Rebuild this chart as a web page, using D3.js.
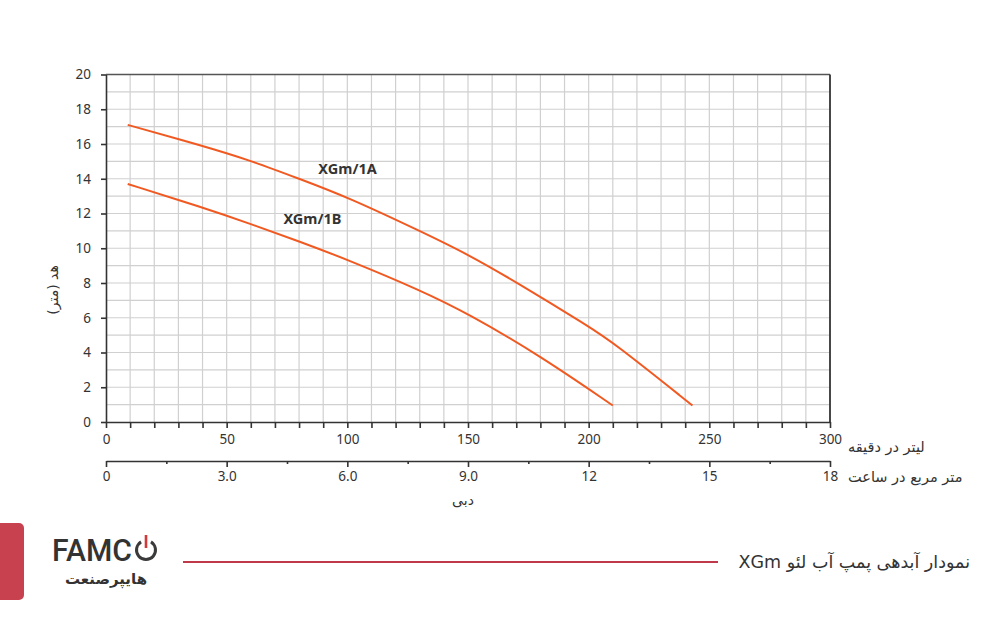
<!DOCTYPE html>
<html>
<head>
<meta charset="utf-8">
<title>XGm pump curve</title>
<style>
  body { margin: 0; background: #fff; }
  svg text { font-family: "Noto Sans", "DejaVu Sans", sans-serif; fill: #333; }
  .fa { font-family: "DejaVu Sans", "Noto Sans", sans-serif; }
  .grid line { stroke: #d0d0d0; stroke-width: 1.2; }
  .axis path, .axis line { stroke: #333; stroke-width: 1.6; }
  .axis text { font-size: 13px; fill: #333; }
</style>
</head>
<body>
<div id="chart"></div>
<script src="https://cdn.jsdelivr.net/npm/d3@7"></script>
<script>
// pump curves, flow in L/min, head in metres
const q1A = [9, 40, 60, 80, 100, 130, 150, 170, 200, 210, 243];
const h1A = [17.1, 15.9, 15.05, 14.0, 12.95, 11.0, 9.65, 8.05, 5.5, 4.6, 0.95];
const q1B = [9, 40, 60, 80, 100, 130, 150, 180, 210];
const h1B = [13.7, 12.35, 11.4, 10.4, 9.35, 7.6, 6.25, 3.8, 0.95];
const seriesNames = ["XGm/1A", "XGm/1B"];

const lpmTicks = [0, 50, 100, 150, 200, 250, 300];
const m3hTicks = [0, 3, 6, 9, 12, 15, 18];
const m3hLabels = ["0", "3.0", "6.0", "9.0", "12", "15", "18"];
const headTicks = [0, 2, 4, 6, 8, 10, 12, 14, 16, 18, 20];

const W = 1000, H = 620;
const pl = 106, pr = 830, pt = 74.5, pb = 422;

const svg = d3.select('#chart').append('svg')
  .attr('width', W).attr('height', H);

const x = d3.scaleLinear().domain([0, 300]).range([pl, pr]);
const x2 = d3.scaleLinear().domain([0, 18]).range([pl, pr]);
const y = d3.scaleLinear().domain([0, 20]).range([pb, pt]);

// grid
const grid = svg.append('g').attr('class', 'grid');
grid.selectAll('.v').data(d3.range(10, 300, 10)).enter().append('line')
  .attr('x1', d => x(d)).attr('x2', d => x(d))
  .attr('y1', pt).attr('y2', pb);
grid.selectAll('.h').data(d3.range(1, 20, 1)).enter().append('line')
  .attr('x1', pl).attr('x2', pr)
  .attr('y1', d => y(d)).attr('y2', d => y(d));

// frame top/right
svg.append('line').attr('x1', pl).attr('x2', pr).attr('y1', pt).attr('y2', pt)
  .attr('stroke', '#555').attr('stroke-width', 1.6);
svg.append('line').attr('x1', pr).attr('x2', pr).attr('y1', pt).attr('y2', pb)
  .attr('stroke', '#333').attr('stroke-width', 1.8);

// y axis
const yAxis = svg.append('g').attr('class', 'axis')
  .attr('transform', `translate(${pl},0)`)
  .call(d3.axisLeft(y).tickValues(headTicks).tickSize(5).tickPadding(10).tickSizeOuter(0));
yAxis.selectAll('text').style('font-size', '13.5px');

// x axis (L/min)
const xAxis = svg.append('g').attr('class', 'axis')
  .attr('transform', `translate(0,${pb})`)
  .call(d3.axisBottom(x).tickValues(d3.range(0, 301, 10)).tickSize(6).tickSizeOuter(0)
    .tickFormat(d => lpmTicks.includes(d) ? d : ''));
xAxis.selectAll('text').attr('y', 12).style('font-size', '13.5px');

// second axis (m3/h)
const yAx2 = 461;
const x2Axis = svg.append('g').attr('class', 'axis')
  .attr('transform', `translate(0,${yAx2})`)
  .call(d3.axisBottom(x2).tickValues(d3.range(0, 18.1, 1.5)).tickSize(6).tickSizeOuter(0)
    .tickFormat(d => { const i = m3hTicks.indexOf(d); return i >= 0 ? m3hLabels[i] : ''; }));
x2Axis.selectAll('.tick line').attr('y2', d => m3hTicks.includes(d) ? 6 : 3);
x2Axis.selectAll('text').attr('y', 10).style('font-size', '13.5px');

// curves
const line = d3.line().x(d => x(d[0])).y(d => y(d[1])).curve(d3.curveBasis);
const curves = [d3.zip(q1A, h1A), d3.zip(q1B, h1B)];
svg.selectAll('.curve').data(curves).enter().append('path')
  .attr('d', line).attr('fill', 'none')
  .attr('stroke', '#f05a22').attr('stroke-width', 2);

// curve labels
svg.append('text').attr('x', x(88)).attr('y', y(14.3)).text(seriesNames[0])
  .style('font-size', '14.5px').style('font-weight', 'bold').attr('fill', '#222');
svg.append('text').attr('x', x(73.5)).attr('y', y(11.4)).text(seriesNames[1])
  .style('font-size', '14.5px').style('font-weight', 'bold').attr('fill', '#222');

// axis titles
svg.append('text').attr('class', 'fa').attr('x', 848).attr('y', 452)
  .attr('direction', 'rtl').attr('text-anchor', 'end')
  .style('font-size', '14.5px').text('لیتر در دقیقه');
svg.append('text').attr('class', 'fa').attr('x', 848).attr('y', 482)
  .style('font-size', '14.5px').attr('text-anchor', 'end').attr('direction', 'rtl')
  .text('متر مربع در ساعت');
svg.append('text').attr('class', 'fa').attr('x', 463).attr('y', 505)
  .attr('text-anchor', 'middle').style('font-size', '14px').text('دبی');
svg.append('text').attr('class', 'fa')
  .attr('transform', 'translate(58,290) rotate(-90)')
  .attr('text-anchor', 'middle').style('font-size', '14px').text('هد (متر)');

// footer
svg.append('rect').attr('x', -8).attr('y', 523).attr('width', 32).attr('height', 77)
  .attr('rx', 5).attr('fill', '#c8414e');
svg.append('line').attr('x1', 183).attr('x2', 718).attr('y1', 562).attr('y2', 562)
  .attr('stroke', '#c0394a').attr('stroke-width', 2);
svg.append('text').attr('class', 'fa').attr('x', 970).attr('y', 568)
  .attr('text-anchor', 'start').attr('direction', 'rtl')
  .style('font-size', '17.5px').text('نمودار آبدهی پمپ آب لئو XGm');

// logo
const logo = svg.append('g');
logo.append('text').attr('x', 52).attr('y', 561).text('FAMC')
  .style('font-size', '31px').style('font-family', 'Roboto, sans-serif')
  .style('font-weight', 500).attr('fill', '#3a3a3a').attr('textLength', 80)
  .attr('lengthAdjust', 'spacingAndGlyphs');
logo.append('path')
  .attr('d', d3.arc()({ innerRadius: 8, outerRadius: 11, startAngle: 0.55, endAngle: 2 * Math.PI - 0.55 }))
  .attr('transform', 'translate(146,550)').attr('fill', '#3a3a3a');
logo.append('rect').attr('x', 144.7).attr('y', 535).attr('width', 2.6).attr('height', 13)
  .attr('fill', '#d03a3a');
logo.append('text').attr('class', 'fa').attr('x', 106).attr('y', 584)
  .attr('text-anchor', 'middle').style('font-size', '15px').style('font-weight', 'bold')
  .attr('fill', '#3a3a3a').text('هایپرصنعت');
</script>
</body>
</html>
